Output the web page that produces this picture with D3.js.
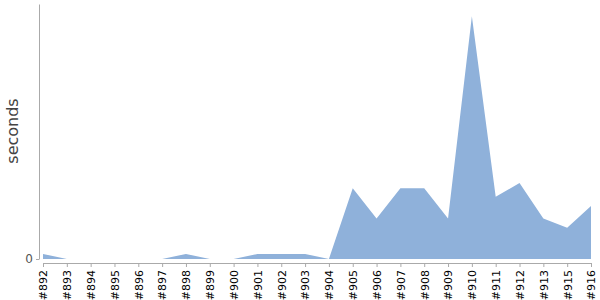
<!DOCTYPE html>
<html>
<head>
<meta charset="utf-8">
<script src="https://cdn.jsdelivr.net/npm/d3@7"></script>
<style>
  body { margin: 0; background: #fff; }
  svg { display: block; font-family: "DejaVu Sans", sans-serif; }
</style>
</head>
<body>
<div class="container"></div>
<script>
const builds = ["#892", "#893", "#894", "#895", "#896", "#897", "#898", "#899", "#900", "#901",
  "#902", "#903", "#904", "#905", "#906", "#907", "#908", "#909", "#910", "#911",
  "#912", "#913", "#915", "#916"];
const seconds = [1, 0, 0, 0, 0, 0, 1, 0, 0, 1,
  1, 1, 0, 14, 8, 14, 14, 8, 48, 12.3,
  15, 8, 6.2, 10.5];
const yTicks = [0];

const width = 600, height = 300;

const svg = d3.select(".container").append("svg")
  .attr("width", width)
  .attr("height", height);

const x = d3.scalePoint()
  .domain(builds)
  .range([43, 591]);

const y = d3.scaleLinear()
  .domain([0, 50.4])
  .range([259, 4]);

// area
const area = d3.area()
  .x((d, i) => x(builds[i]))
  .y0(y(0))
  .y1(d => y(d));

svg.append("path")
  .datum(seconds)
  .attr("d", area)
  .attr("fill", "#8fb1da");

// y axis
const yAxis = svg.append("g")
  .attr("transform", "translate(39,0)")
  .call(d3.axisLeft(y).tickValues(yTicks).tickSize(3).tickSizeOuter(0));
yAxis.select(".domain").attr("stroke", "#aaa");
yAxis.selectAll(".tick line").attr("stroke", "#aaa");
yAxis.selectAll(".tick text")
  .attr("font-size", 12)
  .attr("fill", "#555")
  .attr("x", -6)
  .attr("font-family", "DejaVu Sans, sans-serif");

// x axis
const xAxis = svg.append("g")
  .attr("transform", "translate(0,263)")
  .call(d3.axisBottom(x).tickSize(4).tickSizeOuter(0));
xAxis.select(".domain").attr("stroke", "#aaa");
xAxis.selectAll(".tick line").attr("stroke", "#aaa");
xAxis.selectAll(".tick text")
  .attr("font-size", 11)
  .attr("fill", "#000")
  .attr("font-family", "DejaVu Sans, sans-serif")
  .attr("text-anchor", "end")
  .attr("transform", "rotate(-90)")
  .attr("x", -7)
  .attr("y", 0)
  .attr("dy", "0.35em");

// axis title
svg.append("text")
  .attr("transform", "translate(18,131) rotate(-90)")
  .attr("text-anchor", "middle")
  .attr("font-size", 16)
  .attr("fill", "#444")
  .text("seconds");
</script>
</body>
</html>
